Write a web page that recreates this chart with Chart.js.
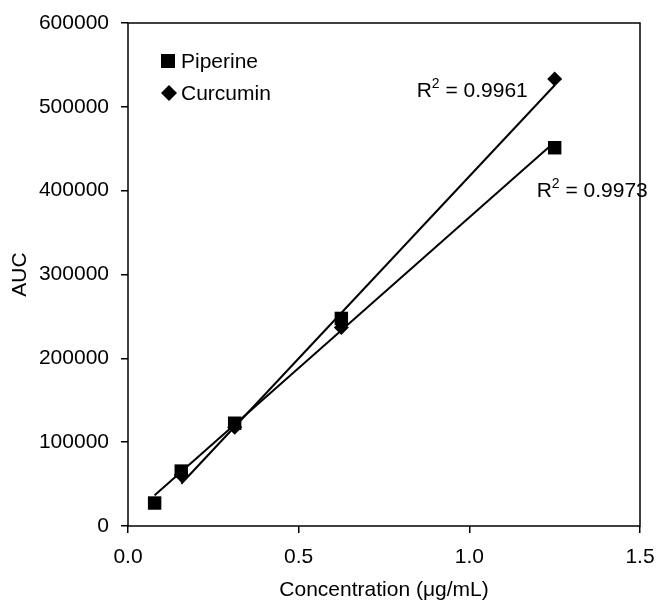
<!DOCTYPE html>
<html>
<head>
<meta charset="utf-8">
<script src="https://cdn.jsdelivr.net/npm/chart.js@4.4.1/dist/chart.umd.min.js"></script>
<style>
  html, body { margin: 0; padding: 0; background: #fff; }
  #wrap { width: 657px; height: 607px; }
</style>
</head>
<body>
<div id="wrap"><canvas id="chart" width="657" height="607"></canvas></div>
<script>
// Data
const piperineConc = [0.078, 0.156, 0.3125, 0.625, 1.25];
const piperineAuc = [27400, 65500, 122600, 247600, 451200];
const curcuminConc = [0.156, 0.3125, 0.625, 1.25];
const curcuminAuc = [60700, 117900, 236900, 533300];
const seriesNames = ['Piperine', 'Curcumin'];
const r2Labels = ['0.9973', '0.9961'];
const xTicks = [0, 0.5, 1.0, 1.5];
const yTicks = [0, 100000, 200000, 300000, 400000, 500000, 600000];

const FONT = 'Liberation Sans, Arial, sans-serif';

function toPoints(xs, ys) {
    return xs.map((x, i) => ({ x: x, y: ys[i] }));
}

// linear least-squares trendline, drawn from the first to the last x
function trendline(xs, ys) {
    const n = xs.length;
    const mx = xs.reduce((s, v) => s + v, 0) / n;
    const my = ys.reduce((s, v) => s + v, 0) / n;
    let sxy = 0, sxx = 0;
    for (let i = 0; i < n; i++) {
        sxy += (xs[i] - mx) * (ys[i] - my);
        sxx += (xs[i] - mx) * (xs[i] - mx);
    }
    const slope = sxy / sxx;
    const icpt = my - slope * mx;
    const x0 = Math.min(...xs), x1 = Math.max(...xs);
    return [{ x: x0, y: icpt + slope * x0 }, { x: x1, y: icpt + slope * x1 }];
}

// Frame round the plot area, legend inside it, R² notes
const extras = {
    id: 'extras',
    afterDraw(chart) {
        const ctx = chart.ctx;
        const a = chart.chartArea;
        ctx.save();
        ctx.strokeStyle = '#000';
        ctx.lineWidth = 1.5;
        ctx.strokeRect(a.left, a.top, a.right - a.left, a.bottom - a.top);

        // legend
        ctx.fillStyle = '#000';
        ctx.font = '21px ' + FONT;
        ctx.textBaseline = 'middle';
        const lx = a.left + 40, ly = a.top + 38;
        ctx.fillRect(lx - 7, ly - 7, 14, 14);
        ctx.fillText(seriesNames[0], lx + 13, ly + 1);
        const dy = ly + 32;
        ctx.beginPath();
        ctx.moveTo(lx + 1, dy - 8);
        ctx.lineTo(lx + 9, dy);
        ctx.lineTo(lx + 1, dy + 8);
        ctx.lineTo(lx - 7, dy);
        ctx.closePath();
        ctx.fill();
        ctx.fillText(seriesNames[1], lx + 13, dy + 1);

        // R² labels near the last point of each series
        const xs = chart.scales.x, ys = chart.scales.y;
        function r2(text, px, py) {
            ctx.textBaseline = 'alphabetic';
            ctx.font = '21px ' + FONT;
            ctx.fillText('R', px, py);
            let w = ctx.measureText('R').width;
            ctx.font = '14px ' + FONT;
            ctx.fillText('2', px + w, py - 9);
            w += ctx.measureText('2').width;
            ctx.font = '21px ' + FONT;
            ctx.fillText(' = ' + text, px + w, py);
        }
        const pi = piperineConc.length - 1;
        r2(r2Labels[0], xs.getPixelForValue(piperineConc[pi]) - 18, ys.getPixelForValue(piperineAuc[pi]) + 49);
        const ci = curcuminConc.length - 1;
        r2(r2Labels[1], xs.getPixelForValue(curcuminConc[ci]) - 138, ys.getPixelForValue(curcuminAuc[ci]) + 18);
        ctx.restore();
    }
};

const lineStyle = {
    type: 'line',
    showLine: true,
    borderColor: '#000',
    borderWidth: 2,
    pointRadius: 0,
    pointHoverRadius: 0,
    fill: false
};

new Chart(document.getElementById('chart'), {
    type: 'scatter',
    data: {
        datasets: [
            Object.assign({ label: seriesNames[0] + ' trend', data: trendline(piperineConc, piperineAuc) }, lineStyle),
            Object.assign({ label: seriesNames[1] + ' trend', data: trendline(curcuminConc, curcuminAuc) }, lineStyle),
            {
                label: seriesNames[0],
                data: toPoints(piperineConc, piperineAuc),
                showLine: false,
                borderColor: '#000',
                backgroundColor: '#000',
                borderWidth: 0,
                pointStyle: 'rect',
                pointRadius: 9.5,
                pointHoverRadius: 9.5
            }, {
                label: seriesNames[1],
                data: toPoints(curcuminConc, curcuminAuc),
                showLine: false,
                borderColor: '#000',
                backgroundColor: '#000',
                borderWidth: 0,
                pointStyle: 'rectRot',
                pointRadius: 7.5,
                pointHoverRadius: 7.5
            }
        ]
    },
    options: {
        responsive: false,
        animation: false,
        layout: { padding: { left: 0, right: 17, top: 23, bottom: 0 } },
        plugins: {
            legend: { display: false },
            tooltip: { enabled: false }
        },
        scales: {
            x: {
                type: 'linear',
                min: 0,
                max: 1.5,
                afterBuildTicks: (scale) => {
                    scale.ticks = xTicks.map(v => ({ value: v }));
                },
                afterFit: (scale) => {
                    scale.height = 81;
                    scale.paddingLeft = 0;
                    scale.paddingRight = 0;
                },
                grid: {
                    drawOnChartArea: false,
                    drawTicks: true,
                    tickLength: 7,
                    color: '#000',
                    lineWidth: 1.5
                },
                border: { display: false },
                ticks: {
                    color: '#000',
                    font: { family: FONT, size: 21 },
                    padding: 12,
                    callback: (v) => Number(v).toFixed(1)
                },
                title: {
                    display: true,
                    text: 'Concentration (\u03bcg/mL)',
                    color: '#000',
                    font: { family: FONT, size: 21 },
                    padding: { top: 0, bottom: 4 }
                }
            },
            y: {
                type: 'linear',
                min: 0,
                max: 600000,
                afterBuildTicks: (scale) => {
                    scale.ticks = yTicks.map(v => ({ value: v }));
                },
                afterFit: (scale) => {
                    scale.width = 128;
                    scale.paddingTop = 0;
                    scale.paddingBottom = 0;
                },
                grid: {
                    drawOnChartArea: false,
                    drawTicks: true,
                    tickLength: 7,
                    color: '#000',
                    lineWidth: 1.5
                },
                border: { display: false },
                ticks: {
                    color: '#000',
                    font: { family: FONT, size: 21 },
                    padding: 12,
                    callback: (v) => String(v)
                },
                title: {
                    display: true,
                    text: 'AUC',
                    color: '#000',
                    font: { family: FONT, size: 21 },
                    padding: { top: 8, bottom: 0 }
                }
            }
        }
    },
    plugins: [extras]
});
</script>
</body>
</html>
